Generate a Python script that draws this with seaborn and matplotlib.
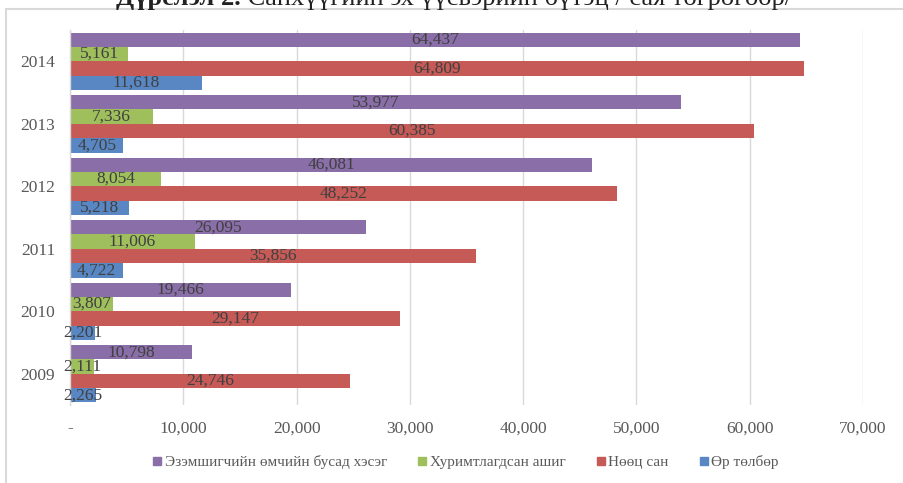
import matplotlib
matplotlib.use("Agg")
import matplotlib.pyplot as plt
import matplotlib.patches as mpatches
from matplotlib.lines import Line2D
import seaborn as sns
import pandas as pd

years = ["2014", "2013", "2012", "2011", "2010", "2009"]
series = ["Эзэмшигчийн өмчийн бусад хэсэг", "Хуримтлагдсан ашиг", "Нөөц сан", "Өр төлбөр"]
owner_other = [64437, 53977, 46081, 26095, 19466, 10798]
retained = [5161, 7336, 8054, 11006, 3807, 2111]
reserve = [64809, 60385, 48252, 35856, 29147, 24746]
liabilities = [11618, 4705, 5218, 4722, 2201, 2265]
xticks = [0, 10000, 20000, 30000, 40000, 50000, 60000, 70000]
title_bold = "Дүрслэл 2."
title_rest = " Санхүүгийн эх үүсвэрийн бүтэц / сая төгрөгөөр/"

colors = ["#8A6EA8", "#9EBF5C", "#C65A57", "#5887C4"]

rows = []
for s, vals in zip(series, [owner_other, retained, reserve, liabilities]):
    for y, v in zip(years, vals):
        rows.append({"year": y, "series": s, "value": v})
df = pd.DataFrame(rows)

sns.set_style("white")
plt.rcParams["font.family"] = ["Liberation Serif", "DejaVu Serif"]

W, H = 904, 483
fig = plt.figure(figsize=(W / 100, H / 100), dpi=100)
ax = fig.add_axes([70 / W, 1 - 405 / H, (863 - 70) / W, 375 / H])

sns.barplot(data=df, y="year", x="value", hue="series", order=years,
            hue_order=series, palette=colors, orient="h", width=0.92,
            gap=0, saturation=1, ax=ax, legend=False, edgecolor="none")

for cont in ax.containers:
    vals = [r.get_width() for r in cont]
    ax.bar_label(cont, labels=[f"{int(round(v)):,}" for v in vals],
                 label_type="center", color="#404040", fontsize=12.5)

ax.set_xlim(0, 70000)
ax.set_xticks(xticks)
ax.set_xticklabels(["-" if t == 0 else f"{t:,}" for t in xticks])
ax.set_xlabel("")
ax.set_ylabel("")
ax.xaxis.grid(True, color="#d9d9d9", lw=1)
ax.set_axisbelow(True)
for sp in ["top", "right", "bottom"]:
    ax.spines[sp].set_visible(False)
ax.spines["left"].set_color("#d9d9d9")
ax.spines["left"].set_linewidth(1)
ax.tick_params(axis="x", length=0, pad=11, labelsize=12.5, labelcolor="#595959")
ax.tick_params(axis="y", length=0, pad=10.7, labelsize=12.5, labelcolor="#595959")

# outer chart frame
fig.patches.append(mpatches.Rectangle((6.5 / W, -0.05), 1.1, 1 - 9 / H + 0.05,
                                      transform=fig.transFigure, fill=False,
                                      edgecolor="#d9d9d9", lw=1.5, zorder=0))

# title (cut off at the top edge, as in the reference)
renderer = fig.canvas.get_renderer()
t1 = fig.text(116 / W, 1 - 5.5 / H, title_bold, ha="left", va="baseline",
              fontsize=19, fontweight="bold", color="#222222")
bb = t1.get_window_extent(renderer)
fig.text(bb.x1 / W, 1 - 5.5 / H, title_rest, ha="left", va="baseline",
         fontsize=19, color="#222222")

handles = [Line2D([], [], marker="s", ls="none", color=c, markersize=6) for c in colors]
fig.legend(handles, series, loc="center", bbox_to_anchor=(465 / W, 1 - 462 / H),
           ncol=4, frameon=False, fontsize=11, labelcolor="#595959",
           handletextpad=0.1, columnspacing=1.9, handlelength=0.8)

fig.savefig("out.png", dpi=100)
